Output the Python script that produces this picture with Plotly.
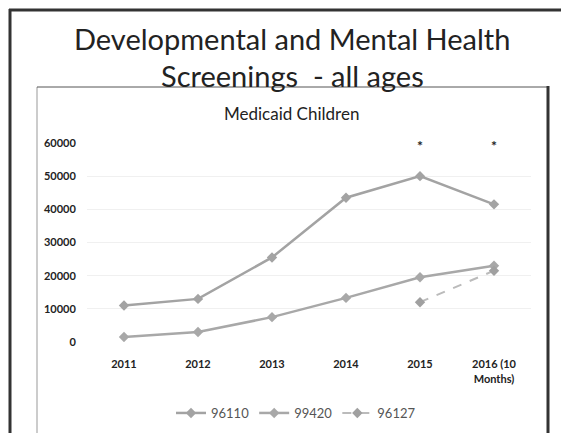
import plotly.graph_objects as go

categories = ["2011", "2012", "2013", "2014", "2015", "2016 (10<br>Months)"]
s96110 = [11000, 13000, 25500, 43500, 50000, 41500]
s99420 = [1500, 3000, 7500, 13300, 19500, 23000]
s96127 = [None, None, None, None, 12000, 21500]
star_cats = ["2015", "2016 (10<br>Months)"]

FONT = "Lato"
OFF = 8  # page body margin
W, H = 569 - OFF, 433 - OFF
# target screen positions of plot area
SL, SR, ST, SB = 87, 531, 143, 342
L, R, T, B = SL - OFF, W - (SR - OFF), ST - OFF, H - (SB - OFF)
PW, PH = SR - SL, SB - ST

def px(x):
    return (x - SL) / PW

def py(y):
    return (SB - y) / PH

fig = go.Figure()
fig.add_trace(go.Scatter(x=categories, y=s96110, name="96110", mode="lines+markers",
                         line=dict(color="#a3a3a3", width=2.5),
                         marker=dict(symbol="diamond", size=8, color="#a3a3a3")))
fig.add_trace(go.Scatter(x=categories, y=s99420, name="99420", mode="lines+markers",
                         line=dict(color="#a8a8a8", width=2.5),
                         marker=dict(symbol="diamond", size=8, color="#a8a8a8")))
fig.add_trace(go.Scatter(x=categories, y=s96127, name="96127", mode="lines+markers",
                         line=dict(color="#bbbbbb", width=2, dash="dash"),
                         marker=dict(symbol="diamond", size=8, color="#a0a0a0")))

for c in star_cats:
    fig.add_annotation(x=categories.index(c), y=60000, text="*", showarrow=False,
                       yanchor="middle", yshift=-2,
                       font=dict(family=FONT, size=14, color="#222", weight="bold"))

# titles
fig.add_annotation(xref="paper", yref="paper", x=px(292), y=py(38),
                   text="Developmental and Mental Health", showarrow=False,
                   xanchor="center", yanchor="middle",
                   font=dict(family=FONT, size=29, color="#222"))
fig.add_annotation(xref="paper", yref="paper", x=px(292), y=py(75),
                   text="Screenings  - all ages", showarrow=False,
                   xanchor="center", yanchor="middle",
                   font=dict(family=FONT, size=29, color="#222"))
fig.add_annotation(xref="paper", yref="paper", x=px(291), y=py(113),
                   text="Medicaid Children", showarrow=False,
                   xanchor="center", yanchor="middle",
                   font=dict(family=FONT, size=17, color="#222"))

# frame lines
shapes = [
    dict(x0=px(10), x1=px(10), y0=py(9), y1=py(440), color="#333", w=3),
    dict(x0=px(9), x1=px(575), y0=py(10), y1=py(10), color="#333", w=3),
    dict(x0=px(37), x1=px(37), y0=py(87), y1=py(440), color="#999", w=1),
    dict(x0=px(37), x1=px(548), y0=py(87), y1=py(87), color="#555", w=1),
    dict(x0=px(548), x1=px(548), y0=py(86), y1=py(440), color="#333", w=3),
]
for s in shapes:
    fig.add_shape(type="line", xref="paper", yref="paper", x0=s["x0"], x1=s["x1"],
                  y0=s["y0"], y1=s["y1"], line=dict(color=s["color"], width=s["w"]))

fig.update_layout(
    width=W, height=H,
    margin=dict(l=L, r=R, t=T, b=B, pad=0),
    paper_bgcolor="white", plot_bgcolor="white",
    font=dict(family=FONT, color="#222"),
    showlegend=True,
    legend=dict(orientation="h", xref="container", yref="container",
                x=(296 - OFF) / W, y=1 - (413 - OFF) / H, xanchor="center", yanchor="middle",
                font=dict(family=FONT, size=13, color="#555"),
                itemwidth=30, tracegroupgap=0, bgcolor="rgba(0,0,0,0)"),
)
fig.update_xaxes(type="category", categoryorder="array", categoryarray=categories,
                 range=[-0.5, len(categories) - 0.5],
                 showgrid=False, zeroline=False, showline=False,
                 ticks="outside", ticklen=12, tickcolor="rgba(0,0,0,0)",
                 tickfont=dict(family=FONT, size=11, color="#222", weight="bold"))
fig.update_yaxes(range=[0, 60000], tickvals=[0, 10000, 20000, 30000, 40000, 50000, 60000],
                 ticktext=["0", "10000", "20000", "30000", "40000", "50000", "60000"],
                 showgrid=True, gridcolor="#f0f0f0", gridwidth=1, zeroline=False,
                 showline=False, ticks="outside", ticklen=8, tickcolor="rgba(0,0,0,0)",
                 tickfont=dict(family=FONT, size=11, color="#222", weight="bold"))

fig.write_html("out.html")
